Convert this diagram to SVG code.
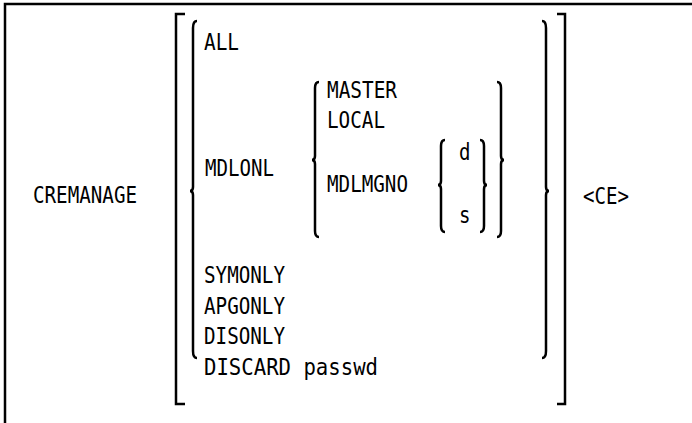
<svg xmlns="http://www.w3.org/2000/svg" width="692" height="423" viewBox="0 0 692 423">
<style>
.t{font-family:"DejaVu Sans Mono","Liberation Mono",monospace;font-size:23px;fill:#000}
.s{fill:none;stroke:#000;stroke-width:2.5;stroke-linejoin:miter}
</style>
<rect width="692" height="423" fill="#fff"/>
<path class="s" d="M5,423 V4 H692"/>
<g id="connectors">
<path id="lb-outer" class="s" d="M185,14 H176 V404 H185"/>
<path id="rb-outer" class="s" d="M557,14 H565 V404 H557"/>
<path id="brace-l1" class="s" d="M197,21 Q193,21 193,28 V187 Q193,191 190,191 Q193,191 193,195 V351 Q193,358 197,358"/>
<path id="brace-r1" class="s" d="M542,21 Q546,21 546,28 V187 Q546,191 549,191 Q546,191 546,195 V351 Q546,358 542,358"/>
<path id="brace-l2" class="s" d="M319,82 Q315,82 315,88 V156 Q315,160 312,160 Q315,160 315,164 V231 Q315,237 319,237"/>
<path id="brace-r2" class="s" d="M497,82 Q501,82 501,88 V156 Q501,160 504,160 Q501,160 501,164 V231 Q501,237 497,237"/>
<path id="brace-l3" class="s" d="M445,140 Q441,140 441,146 V181 Q441,185 438,185 Q441,185 441,189 V226 Q441,232 445,232"/>
<path id="brace-r3" class="s" d="M480,140 Q484,140 484,146 V181 Q484,185 487,185 Q484,185 484,189 V226 Q484,232 480,232"/>
</g>
<g id="n-cremanage"><text class="t" x="33" y="203" textLength="104" lengthAdjust="spacingAndGlyphs">CREMANAGE</text></g>
<g id="n-all"><text class="t" x="204" y="50" textLength="35" lengthAdjust="spacingAndGlyphs">ALL</text></g>
<g id="n-mdlonl"><text class="t" x="205" y="176" textLength="69" lengthAdjust="spacingAndGlyphs">MDLONL</text></g>
<g id="n-master"><text class="t" x="327" y="98" textLength="70" lengthAdjust="spacingAndGlyphs">MASTER</text></g>
<g id="n-local"><text class="t" x="327" y="128" textLength="58" lengthAdjust="spacingAndGlyphs">LOCAL</text></g>
<g id="n-mdlmgno"><text class="t" x="327" y="192" textLength="81" lengthAdjust="spacingAndGlyphs">MDLMGNO</text></g>
<g id="n-d"><text class="t" x="459" y="160" textLength="11.5" lengthAdjust="spacingAndGlyphs">d</text></g>
<g id="n-s"><text class="t" x="459" y="223" textLength="11.5" lengthAdjust="spacingAndGlyphs">s</text></g>
<g id="n-symonly"><text class="t" x="204" y="283" textLength="81" lengthAdjust="spacingAndGlyphs">SYMONLY</text></g>
<g id="n-apgonly"><text class="t" x="204" y="314" textLength="81" lengthAdjust="spacingAndGlyphs">APGONLY</text></g>
<g id="n-disonly"><text class="t" x="204" y="344" textLength="81" lengthAdjust="spacingAndGlyphs">DISONLY</text></g>
<g id="n-discard"><text class="t" x="204" y="375" textLength="174" lengthAdjust="spacingAndGlyphs">DISCARD  passwd</text></g>
<g id="n-ce"><text class="t" x="583" y="204" textLength="46" lengthAdjust="spacingAndGlyphs">&lt;CE&gt;</text></g>
</svg>
